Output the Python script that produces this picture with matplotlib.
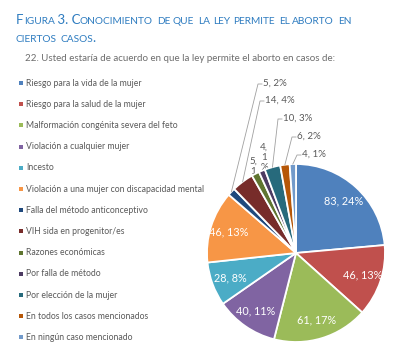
import numpy as np
import matplotlib
matplotlib.use("Agg")
import matplotlib.pyplot as plt
from matplotlib.font_manager import findfont, FontProperties
from matplotlib.ft2font import FT2Font

plt.rcParams['font.family'] = ['Liberation Sans Narrow', 'Lato', 'DejaVu Sans']

# datos
categorias = ["Riesgo para la vida de la mujer",
              "Riesgo para la salud de la mujer",
              "Malformación congénita severa del feto",
              "Violación a cualquier mujer",
              "Incesto",
              "Violación a una mujer con discapacidad mental",
              "Falla del método anticonceptivo",
              "VIH sida en progenitor/es",
              "Razones económicas",
              "Por falla de método",
              "Por elección de la mujer",
              "En todos los casos mencionados",
              "En ningún caso mencionado"]
valores = [83, 46, 61, 40, 28, 46, 5, 14, 5, 4, 10, 6, 4]
etiquetas = ["83, 24%", "46, 13%", "61, 17%", "40, 11%", "28, 8%", "46, 13%",
             "5, 2%", "14, 4%", "5,\n1\n%", "4,\n1\n%", "10, 3%", "6, 2%", "4, 1%"]
colores = ['#4f81bd', '#c0504d', '#9bbb59', '#8064a2', '#4bacc6', '#f79646',
           '#1f497d', '#772c2a', '#5f7530', '#4d3b62', '#276a7c', '#b65708', '#729aca']

titulo = ["Figura 3. Conocimiento de que la ley permite el aborto en", "ciertos casos."]
pregunta = "22. Usted estaría de acuerdo en que la ley permite el aborto en casos de:"

W, H = 407, 357
fig = plt.figure(figsize=(W / 100, H / 100), dpi=100)

# pastel
cx, cy, r = 296, 253, 89
ax = fig.add_axes([(cx - r) / W, (H - cy - r) / H, 2 * r / W, 2 * r / H])
wedges, _ = ax.pie(valores, colors=colores, startangle=90, counterclock=False,
                   wedgeprops=dict(edgecolor='white', linewidth=1.3))
for w in wedges:
    w.set_clip_on(False)
ax.set_xlim(-1, 1)
ax.set_ylim(-1, 1)
ax.set_aspect('auto')
ax.axis('off')

# capa de textos en pixeles
ov = fig.add_axes([0, 0, 1, 1])
ov.set_xlim(0, W)
ov.set_ylim(H, 0)
ov.axis('off')
ov.patch.set_alpha(0)

# titulo en versalitas (metricas de la fuente para avanzar)
azul = '#2e7cc0'
fuente = FT2Font(findfont(FontProperties(family=plt.rcParams['font.family'])), hinting_factor=1)

def metricas(ch, size):
    fuente.set_size(size, 100)
    g = fuente.load_char(ord(ch))
    return g.linearHoriAdvance / 65536, g.horiBearingX / 64

def versalitas(texto, x, y, big=9.5, small=7.3):
    trozos = []
    for ch in texto:
        grande = not ch.islower()
        if trozos and trozos[-1][1] == grande:
            trozos[-1][0] += ch
        else:
            trozos.append([ch, grande])
    origen = x
    for t, grande in trozos:
        size = big if grande else small
        t = t.upper()
        lsb = metricas(t[0], size)[1] if t[0] != ' ' else 0
        ov.text(origen + lsb, y, t, fontsize=size, color=azul, va='baseline', ha='left')
        origen += sum(metricas(c, size)[0] for c in t)

versalitas(titulo[0], 16, 24)
versalitas(titulo[1], 16, 42)
ov.text(25, 61, pregunta, fontsize=7, color='#6d6d6d', va='baseline')

# leyenda
gris = '#595959'
for i, (cat, col) in enumerate(zip(categorias, colores)):
    y = 83 + i * 21.2
    ov.scatter([21], [y], marker='s', s=7, color=col, linewidths=0)
    ov.text(26, y, cat, fontsize=6.2, color=gris, va='center')

# etiquetas
total = sum(valores)
acum = 0
puntos = []
for v in valores:
    mid = np.deg2rad(90 - 360 * (acum + v / 2) / total)
    puntos.append((np.cos(mid), np.sin(mid)))
    acum += v

for i in range(6):
    x, y = puntos[i]
    ax.text(0.79 * x, 0.79 * y, etiquetas[i], color='white', fontsize=7.8,
            ha='center', va='center')

fuera = {6: (263, 83), 7: (265, 100), 10: (283, 118), 11: (297, 136), 12: (302, 154)}
for i, (tx, ty) in fuera.items():
    ov.text(tx, ty, etiquetas[i], fontsize=7, color=gris, va='center', ha='left')
    px = ax.transData.transform(puntos[i])
    ex, ey = ov.transData.inverted().transform(px)
    ov.plot([tx - 1, tx - 5, ex], [ty + 1, ty + 1, ey], color='#a0a0a0', lw=0.6)

# etiquetas partidas, quedan detras de las porciones
envueltas = {8: (253, 157), 9: (264, 143)}
for i, (tx, ty) in envueltas.items():
    ax.text(tx, ty, etiquetas[i], fontsize=7, color=gris, va='top', ha='center',
            linespacing=1.15, zorder=0, transform=ov.transData)

fig.savefig('out.png', dpi=100)
